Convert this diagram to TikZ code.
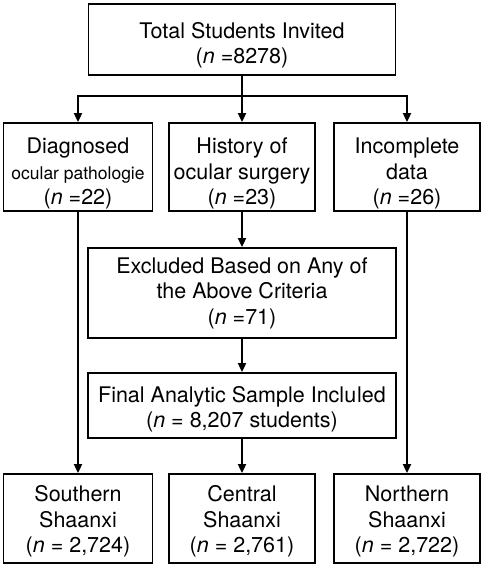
\documentclass[tikz,border=0pt]{standalone}
\usepackage{fontspec}
\setmainfont{TeX Gyre Heros}
\usetikzlibrary{arrows.meta}

% invisible strut that pushes the first line down
\newcommand{\lowerby}[1]{\rule{0pt}{#1pt}}

\begin{document}
\begin{tikzpicture}[
    x=1pt, y=1pt,
    box/.style={draw, line width=1.8pt, align=center, inner sep=0pt,
                font=\fontsize{21.5}{25.5}\selectfont},
    flow/.style={-{Triangle[length=9pt,width=8pt]}, line width=1.8pt},
]
    \useasboundingbox (0,0) rectangle (484,-569);

    \node[box, minimum width=307, minimum height=71] (total) at (242,-39.5)
        {\lowerby{28}Total Students Invited\\(\textit{n} =8278)};
    \node[box, minimum width=149, minimum height=88] (diag) at (78,-167)
        {\lowerby{29}Diagnosed\\{\fontsize{17.5}{25.5}\selectfont ocular pathologie}\\(\textit{n} =22)};
    \node[box, minimum width=146, minimum height=88] (surg) at (242,-167)
        {\lowerby{29}History of\\ocular surgery\\(\textit{n} =23)};
    \node[box, minimum width=146, minimum height=88] (incomp) at (407,-167)
        {\lowerby{29}Incomplete\\data\\(\textit{n} =26)};
    \node[box, minimum width=308, minimum height=90] (excl) at (242,-293)
        {Excluded Based on Any of\\the Above Criteria\\(\textit{n} =71)};
    \node[box, minimum width=308, minimum height=65] (final) at (242,-405.5)
        {\lowerby{24}Final Analytic Sample Inclu\kern1pt led\\(\textit{n} = 8,207 students)};
    \node[box, minimum width=149, minimum height=89] (south) at (78,-518.5)
        {\lowerby{22}Southern\\Shaanxi\\(\textit{n} = 2,724)};
    \node[box, minimum width=146, minimum height=89] (central) at (242,-518.5)
        {\lowerby{22}Central\\Shaanxi\\(\textit{n} = 2,761)};
    \node[box, minimum width=146, minimum height=89] (north) at (407,-518.5)
        {\lowerby{22}Northern\\Shaanxi\\(\textit{n} = 2,722)};

    \coordinate (split) at (242,-96);
    \draw[line width=1.8pt] (total) -- (split);
    \draw[flow] (split) -| (diag);
    \draw[flow] (split) -- (surg);
    \draw[flow] (split) -| (incomp);
    \draw[flow] (surg) -- (excl);
    \draw[flow] (excl) -- (final);
    \draw[flow] (final) -- (central);
    \draw[flow] (diag) -- (south);
    \draw[flow] (incomp) -- (north);

\end{tikzpicture}
\end{document}
